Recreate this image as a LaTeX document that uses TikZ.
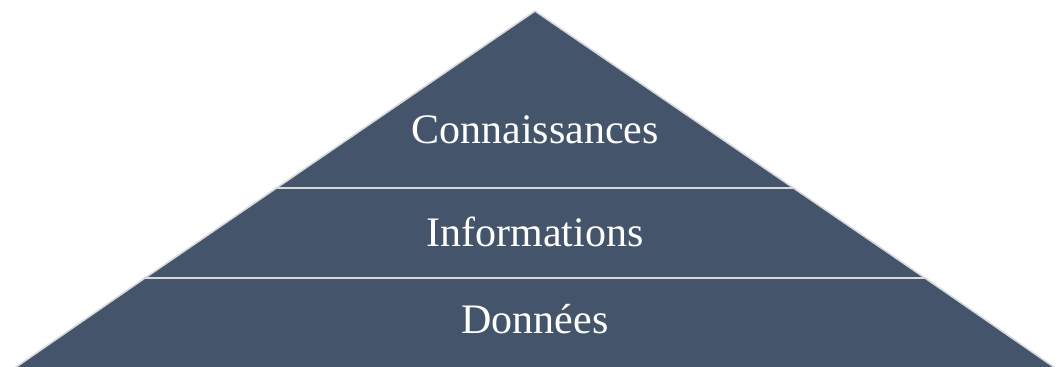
\documentclass[tikz,border=0pt]{standalone}
\usepackage{fontspec}
\setmainfont{Liberation Serif}
\usetikzlibrary{calc}
\usetikzlibrary{positioning}
\definecolor{slate}{HTML}{44546A}
\tikzset{
% Two styles for the pyramid: the layers and their labels
layer/.style={fill=slate,draw=white!85!black,line width=1.6,line join=miter},
level label/.style={anchor=base,text=white,inner sep=0,font=\fontsize{42}{50}\selectfont}
}

\begin{document}
\begin{tikzpicture}[x=1pt,y=-1pt]
		\useasboundingbox (0,0) rectangle (1061,367);
		% corners of the pyramid
		\coordinate (top) at (535,11);
		\coordinate (a1) at (276.5,188);
		\coordinate (b1) at (793.5,188);
		\coordinate (a2) at (145,278);
		\coordinate (b2) at (925,278);
		\coordinate (a3) at (15,367.8);
		\coordinate (b3) at (1055,367.8);
		% The layers
		\draw[layer](top)--(b1)--(a1)--cycle;
		\draw[layer](a1)--(b1)--(b2)--(a2)--cycle;
		\draw[layer](a2)--(b2)--(b3)--(a3)--cycle;
		% labels
		\node(k)[level label]at(535,143){Connaissances};
		\node(i)[level label]at(535,246){Informations};
		\node(d)[level label]at(535,333){Données};
	\end{tikzpicture}
\end{document}
